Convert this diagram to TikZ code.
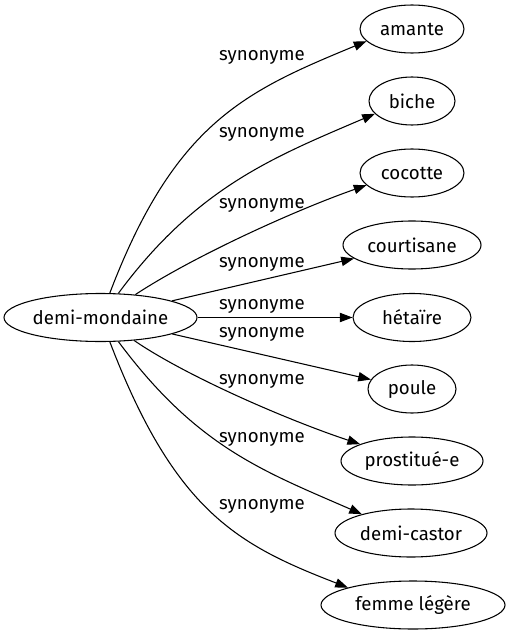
\documentclass[tikz,border=0pt]{standalone}
\usepackage{fontspec}
\setmainfont{Fira Sans}
\usetikzlibrary{shapes.geometric,arrows.meta}
\tikzset{
  term/.style={ellipse, draw, line width=0.8pt, inner sep=0pt, minimum height=36pt, font=\fontsize{14pt}{16pt}\selectfont},
  lbl/.style={inner sep=0pt, font=\fontsize{14pt}{16pt}\selectfont},
  syn/.style={draw, line width=0.8pt, -{Triangle[length=9.5pt,width=7pt]}},
}
\begin{document}
\begin{tikzpicture}[x=0.75pt,y=-0.75pt]
\fill[white] (0,0) rectangle (509,635);
\useasboundingbox (0,0) rectangle (509,635);
% nodes
\node[term, minimum width=144.75pt] (dm) at (100.5,317.5) {demi-mondaine};
\node[term, minimum width=78pt]    (amante) at (412,29) {amante};
\node[term, minimum width=64.5pt]  (biche) at (412,101) {biche};
\node[term, minimum width=78pt]    (cocotte) at (412,173) {cocotte};
\node[term, minimum width=103.5pt] (court) at (412,245) {courtisane};
\node[term, minimum width=88.5pt]  (het) at (412,317.5) {hétaïre};
\node[term, minimum width=66pt]    (poule) at (412,389) {poule};
\node[term, minimum width=106.5pt] (prost) at (412,461) {prostitué-e};
\node[term, minimum width=114pt]   (castor) at (411,533) {demi-castor};
\node[term, minimum width=138pt]   (femme) at (413,605) {femme légère};
% labels
\node[lbl] (l1) at (262,57) {synonyme};
\node[lbl] (l2) at (262,134) {synonyme};
\node[lbl] (l3) at (262,205) {synonyme};
\node[lbl] (l4) at (262,264) {synonyme};
\node[lbl] (l5) at (262,306) {synonyme};
\node[lbl] (l6) at (262,334) {synonyme};
\node[lbl] (l7) at (262,381) {synonyme};
\node[lbl] (l8) at (262,439) {synonyme};
\node[lbl] (l9) at (262,506) {synonyme};
% edges
\draw[syn] (dm) .. controls (175,122) and (246,91) .. (amante.195.1);
\draw[syn] (dm) .. controls (197,187) and (274,157) .. (biche.199.8);
\draw[syn] (dm) .. controls (192.5,257) and (293,211) .. (cocotte.195.3);
\draw[syn] (dm) -- (court);
\draw[syn] (dm) -- (het);
\draw[syn] (dm) -- (poule);
\draw[syn] (dm) .. controls (187.5,377) and (290,421) .. (prost.162.9);
\draw[syn] (dm) .. controls (196.7,447) and (263,471) .. (castor.159.4);
\draw[syn] (dm) .. controls (175,512) and (238,545) .. (femme.165.3);
\end{tikzpicture}
\end{document}
